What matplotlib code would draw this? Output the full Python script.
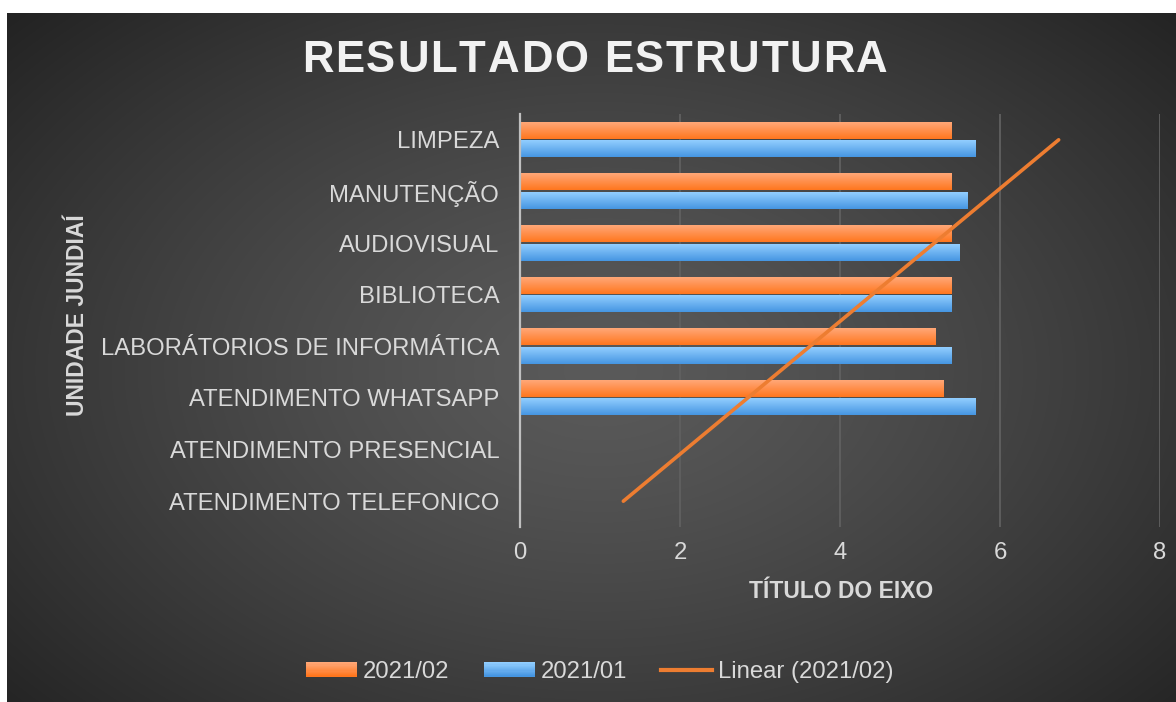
import numpy as np
import matplotlib
matplotlib.use("Agg")
import matplotlib.pyplot as plt
from matplotlib.patches import Rectangle
from matplotlib.lines import Line2D
from matplotlib.legend_handler import HandlerBase

plt.rcParams["font.family"] = ["Liberation Sans", "DejaVu Sans"]

# categories listed bottom -> top, as in the Excel source
CATEGORIES = [
    "ATENDIMENTO TELEFONICO",
    "ATENDIMENTO PRESENCIAL",
    "ATENDIMENTO WHATSAPP",
    "LABORÁTORIOS DE INFORMÁTICA",
    "BIBLIOTECA",
    "AUDIOVISUAL",
    "MANUTENÇÃO",
    "LIMPEZA",
]
S_2021_02 = [0, 0, 5.3, 5.2, 5.4, 5.4, 5.4, 5.4]
S_2021_01 = [0, 0, 5.7, 5.4, 5.4, 5.5, 5.6, 5.7]
X_TICKS = [0, 2, 4, 6, 8]
TITLE = "RESULTADO ESTRUTURA"

ORANGE_TOP, ORANGE_BOT = np.array([255, 168, 120]) / 255, np.array([255, 118, 30]) / 255
BLUE_TOP, BLUE_BOT = np.array([146, 206, 255]) / 255, np.array([70, 150, 226]) / 255
TREND_C = "#ED7D31"
LABEL_C = "#d9d9d9"
FS = 17.2


def vgrad(top, bot, n=64):
    t = np.linspace(0, 1, n)[:, None, None]
    return top[None, None, :] * (1 - t) + bot[None, None, :] * t


class GradHandler(HandlerBase):
    def __init__(self, top, bot, n=12):
        super().__init__()
        self.top, self.bot, self.n = top, bot, n

    def create_artists(self, legend, orig_handle, xdescent, ydescent,
                       width, height, fontsize, trans):
        arts = []
        for i in range(self.n):
            t = i / (self.n - 1)
            c = self.top * (1 - t) + self.bot * t
            y = -ydescent + height * (1 - (i + 1) / self.n)
            arts.append(Rectangle((-xdescent, y), width, height / self.n + 0.2,
                                  facecolor=c, edgecolor="none", transform=trans))
        return arts


def spaced_title(fig, text, xc_px, base_px, spacing_px, **kw):
    """Excel-style letter spacing: draw each character on its own."""
    r = fig.canvas.get_renderer()
    widths = []
    for ch in text:
        t = fig.text(0, 0, ch.replace(" ", "\u00a0"), **kw)
        widths.append(t.get_window_extent(r).width)
        t.remove()
    total = sum(widths) + spacing_px * (len(text) - 1)
    x = xc_px - total / 2
    for ch, w in zip(text, widths):
        if ch != " ":
            fig.text(x / W, 1 - base_px / H, ch, ha="left", va="baseline", **kw)
        x += w + spacing_px


W, H = 1176, 702
fig = plt.figure(figsize=(W / 100, H / 100), dpi=100, facecolor="white")

# dark radial background of the chart area
bg = fig.add_axes([7 / W, 0, 1 - 7 / W, 1 - 13 / H], zorder=-10)
yy, xx = np.mgrid[13:H, 7:W]
r = np.sqrt(((xx - 600) / 640) ** 2 + ((yy - 370) / 420) ** 2)
g = 90 - 55 * np.clip(r / 1.25, 0, 1) ** 1.3
bg.imshow(np.dstack([g, g, g]) / 255, aspect="auto", interpolation="bilinear")
bg.set_axis_off()

ax = fig.add_axes([520 / W, 1 - 527 / H, 640 / W, 413 / H])
ax.set_facecolor("none")

y = np.arange(len(CATEGORIES))
off, bh = 0.18, 0.32
bars_o = ax.barh(y + off, S_2021_02, height=bh, color=ORANGE_BOT, lw=0, zorder=2)
bars_b = ax.barh(y - off, S_2021_01, height=bh, color=BLUE_BOT, lw=0, zorder=2)
for bars, top, bot in [(bars_o, ORANGE_TOP, ORANGE_BOT), (bars_b, BLUE_TOP, BLUE_BOT)]:
    for p in bars:
        if p.get_width() <= 0:
            continue
        x0, y0 = p.get_x(), p.get_y()
        ax.imshow(vgrad(top, bot), extent=(x0, x0 + p.get_width(), y0, y0 + p.get_height()),
                  aspect="auto", zorder=3, interpolation="bilinear")

# linear trendline of 2021/02 (Excel treats blanks as 0)
xs = y + 1
slope, icpt = np.polyfit(xs, S_2021_02, 1)
ax.plot(slope * xs + icpt, y, color=TREND_C, lw=2.6, zorder=4, solid_capstyle="round")

ax.set_xlim(0, 8)
ax.set_ylim(-0.5, len(CATEGORIES) - 0.5)
ax.set_aspect("auto")
ax.set_xticks(X_TICKS)
ax.set_xticklabels([str(v) for v in X_TICKS])
ax.set_yticks(y)
ax.set_yticklabels(CATEGORIES)
ax.tick_params(axis="both", length=0, labelsize=FS, labelcolor=LABEL_C)
ax.tick_params(axis="y", pad=15)
ax.tick_params(axis="x", pad=11)
ax.grid(axis="x", color="#606060", lw=1.3, zorder=0)
ax.set_axisbelow(True)
for s in ["top", "right", "bottom"]:
    ax.spines[s].set_visible(False)
ax.spines["left"].set_color("#bfbfbf")
ax.spines["left"].set_linewidth(1.6)
ax.spines["left"].set_zorder(5)

spaced_title(fig, TITLE, 595, 72.5, 1.8, fontsize=31.5, fontweight="bold", color="#f2f2f2")
fig.text(841 / W, 1 - 598 / H, "TÍTULO DO EIXO", ha="center", va="baseline",
         fontsize=16.5, fontweight="bold", color=LABEL_C)
fig.text(77 / W, 1 - 315 / H, "UNIDADE JUNDIAÍ", ha="center", va="center", rotation=90,
         fontsize=16.5, fontweight="bold", color=LABEL_C)

h_o = Rectangle((0, 0), 1, 1, label="2021/02")
h_b = Rectangle((0, 0), 1, 1, label="2021/01")
h_l = Line2D([0], [0], color=TREND_C, lw=3, label="Linear (2021/02)")
leg = fig.legend(handles=[h_o, h_b, h_l], loc="center", bbox_to_anchor=(0.51, 1 - 672 / H),
                 ncol=3, frameon=False, fontsize=FS, handlelength=2.13, handleheight=0.55,
                 handletextpad=0.25, columnspacing=1.42, borderpad=0,
                 handler_map={h_o: GradHandler(ORANGE_TOP, ORANGE_BOT),
                              h_b: GradHandler(BLUE_TOP, BLUE_BOT)})
for t in leg.get_texts():
    t.set_color(LABEL_C)

fig.savefig("out.png", dpi=100, facecolor="white")
